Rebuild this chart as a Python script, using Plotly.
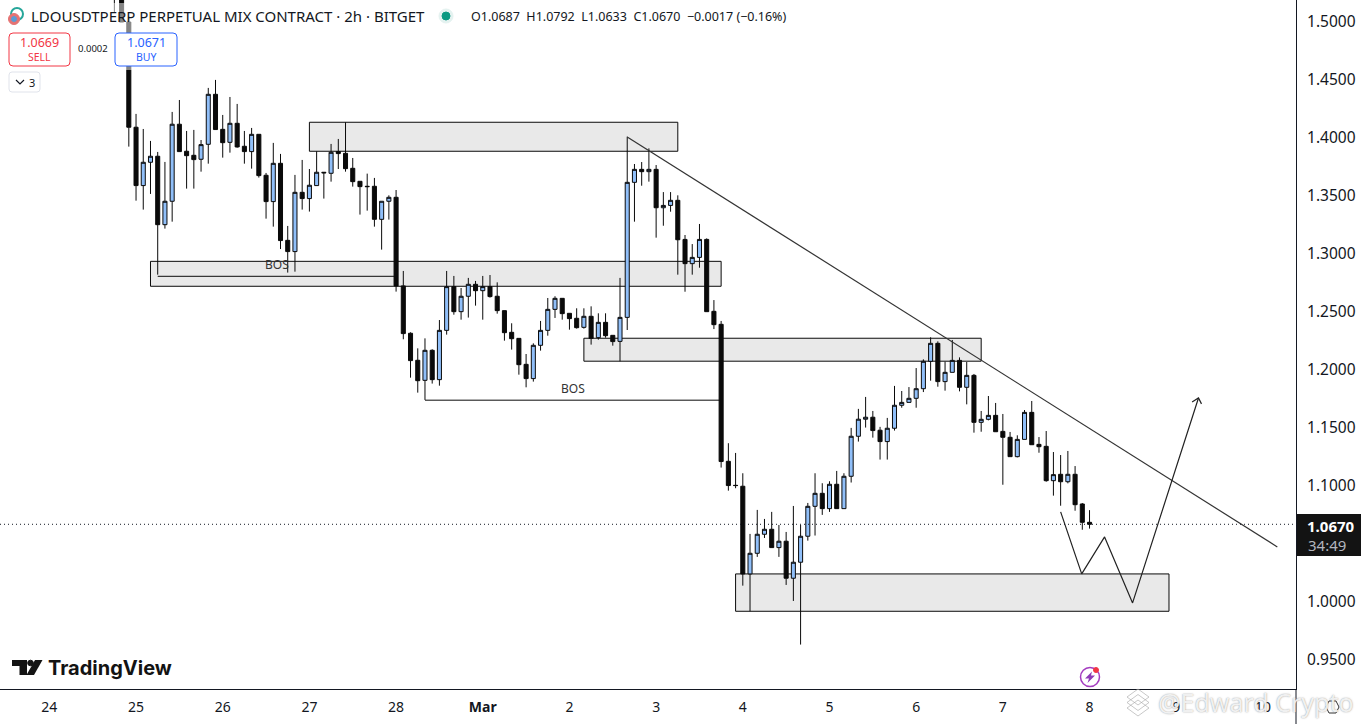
import pandas as pd
import plotly.graph_objects as go

W, H = 1366, 724
PW, PH = 1296, 689

opens = [1.5800,1.5600,1.5000,
 1.4093,1.3590,1.3791,1.3843,1.3253,1.3455,1.4119,1.3886,1.3851,1.3817,
 1.3946,1.4377,1.4075,1.3963,1.4127,1.3929,1.3883,1.4032,1.3679,1.3452,
 1.3782,1.3118,1.3021,1.3532,1.3478,1.3590,1.3705,1.3696,1.3883,1.3868,
 1.3739,1.3627,1.3584,1.3584,1.3299,1.3455,1.3489,1.2725,1.2317,1.2084,
 1.1911,1.2170,1.1917,1.2342,1.2719,1.2503,1.2636,1.2739,1.2684,1.2719,
 1.2636,1.2512,1.2325,1.2273,1.2049,1.1926,1.2213,1.2342,1.2523,1.2618,
 1.2489,1.2446,1.2368,1.2463,1.2279,1.2411,1.2299,1.2247,1.2454,1.3618,
 1.3730,1.3710,1.3730,1.3399,1.3419,1.3463,1.3126,1.2917,1.2971,1.3126,
 1.2506,1.2394,1.1213,1.1006,1.0998,1.0242,1.0420,1.0584,1.0627,1.0469,
 1.0524,1.0205,1.0343,1.0567,1.0825,1.0937,1.0805,1.1015,1.0805,1.1084,
 1.1429,1.1576,1.1593,1.1481,1.1383,1.1498,1.1696,1.1721,1.1756,1.1839,
 1.2075,1.2230,1.1900,1.1980,1.2083,1.1851,1.1954,1.1549,1.1575,1.1609,
 1.1471,1.1420,1.1253,1.1402,1.1635,1.1359,1.1342,1.1046,1.1101,1.1037,
 1.1101,1.0845,1.0687]
highs = [1.5900,1.5650,1.5050,
 1.4208,1.4078,1.3975,1.3880,1.3794,1.4225,1.4328,1.4061,1.4070,1.3983,
 1.4432,1.4501,1.4199,1.4354,1.4294,1.4061,1.4087,1.4032,1.3699,1.3958,
 1.3863,1.3242,1.3682,1.3811,1.3733,1.3886,1.3705,1.3949,1.3992,1.4136,
 1.3828,1.3627,1.3693,1.3656,1.3455,1.3506,1.3552,1.2854,1.2325,1.2187,
 1.2273,1.2179,1.2431,1.2854,1.2811,1.2707,1.2794,1.2768,1.2811,1.2819,
 1.2756,1.2512,1.2403,1.2273,1.2138,1.2230,1.2423,1.2621,1.2636,1.2618,
 1.2489,1.2532,1.2532,1.2549,1.2489,1.2489,1.2299,1.2794,1.4012,1.3776,
 1.3793,1.3911,1.3767,1.3534,1.3534,1.3506,1.3164,1.3086,1.3259,1.3135,
 1.2603,1.2423,1.1369,1.1285,1.1110,1.0587,1.0794,1.0716,1.0777,1.0664,
 1.0604,1.0828,1.0664,1.0854,1.1110,1.1024,1.1041,1.1130,1.1110,1.1501,
 1.1665,1.1768,1.1647,1.1510,1.1587,1.1863,1.1819,1.1853,1.2017,1.2092,
 1.2282,1.2247,1.2072,1.2259,1.2109,1.2069,1.1966,1.1647,1.1776,1.1716,
 1.1621,1.1466,1.1437,1.1655,1.1733,1.1422,1.1474,1.1293,1.1267,1.1302,
 1.1172,1.0853,1.0792]
lows = [1.5087,1.5000,1.3926,
 1.3460,1.3383,1.3518,1.2822,1.3219,1.3279,1.3883,1.3564,1.3564,1.3710,
 1.3779,1.4073,1.3831,1.3874,1.3917,1.3779,1.3736,1.3659,1.3305,1.3236,
 1.3043,1.2840,1.2848,1.3383,1.3366,1.3590,1.3478,1.3624,1.3733,1.3710,
 1.3581,1.3340,1.3374,1.3236,1.3038,1.3297,1.2676,1.2265,1.1934,1.1805,
 1.1742,1.1883,1.1865,1.2305,1.2477,1.2434,1.2452,1.2555,1.2434,1.2624,
 1.2486,1.2253,1.2176,1.1960,1.1851,1.1900,1.2167,1.2296,1.2449,1.2434,
 1.2348,1.2357,1.2357,1.2219,1.2262,1.2279,1.2210,1.2075,1.2345,1.3279,
 1.3589,1.3624,1.3141,1.3244,1.3365,1.2822,1.2675,1.2822,1.2882,1.2503,
 1.2353,1.1159,1.0960,1.0981,1.0141,0.9920,1.0389,1.0552,1.0469,1.0389,
 1.0147,1.0009,0.9633,1.0529,1.0573,1.0751,1.0777,1.0805,1.0805,1.1030,
 1.1383,1.1504,1.1417,1.1228,1.1228,1.1478,1.1675,1.1721,1.1675,1.1810,
 1.1908,1.1856,1.1822,1.1980,1.1816,1.1704,1.1460,1.1468,1.1566,1.1468,
 1.1011,1.1253,1.1247,1.1402,1.1356,1.1287,1.1037,1.0917,1.0830,1.1023,
 1.0787,1.0623,1.0633]
closes = [1.5600,1.5000,1.4093,
 1.3590,1.3791,1.3843,1.3253,1.3455,1.4119,1.3883,1.3848,1.3814,1.3943,
 1.4377,1.4073,1.3960,1.4127,1.3923,1.3883,1.4032,1.3676,1.3452,1.3782,
 1.3116,1.3021,1.3532,1.3478,1.3593,1.3705,1.3700,1.3877,1.3866,1.3736,
 1.3624,1.3581,1.3581,1.3299,1.3455,1.3489,1.2725,1.2314,1.2081,1.1908,
 1.2170,1.1917,1.2342,1.2719,1.2503,1.2636,1.2739,1.2684,1.2719,1.2633,
 1.2512,1.2322,1.2270,1.2046,1.1926,1.2213,1.2342,1.2523,1.2618,1.2486,
 1.2443,1.2365,1.2463,1.2273,1.2411,1.2296,1.2245,1.2454,1.3618,1.3730,
 1.3710,1.3730,1.3399,1.3419,1.3463,1.3123,1.2917,1.2971,1.3126,1.2503,
 1.2391,1.1211,1.1004,1.1004,1.0242,1.0420,1.0584,1.0627,1.0469,1.0524,
 1.0205,1.0343,1.0567,1.0825,1.0937,1.0805,1.1015,1.0805,1.1084,1.1429,
 1.1576,1.1593,1.1478,1.1383,1.1498,1.1696,1.1721,1.1756,1.1839,1.2075,
 1.2230,1.1900,1.1980,1.2083,1.1851,1.1954,1.1549,1.1575,1.1609,1.1468,
 1.1420,1.1253,1.1402,1.1635,1.1356,1.1339,1.1046,1.1098,1.1037,1.1101,
 1.0839,1.0687,1.0670]

dates = pd.date_range("2025-02-24 18:00", periods=len(opens), freq="2h")

tick_dates = ["2025-02-24","2025-02-25","2025-02-26","2025-02-27","2025-02-28","2025-03-01","2025-03-02",
              "2025-03-03","2025-03-04","2025-03-05","2025-03-06","2025-03-07","2025-03-08","2025-03-09","2025-03-10"]
tick_labels = ["24","25","26","27","28","<b>Mar</b>","2","3","4","5","6","7","8","9","10"]
price_ticks = [0.95,1.00,1.05,1.10,1.15,1.20,1.25,1.30,1.35,1.40,1.45,1.50]

# drawings (time, price)
zones = [("2025-02-27 00:00","2025-03-03 06:00",1.3886,1.4136),
         ("2025-02-25 04:00","2025-03-03 18:00",1.2722,1.2937),
         ("2025-03-02 04:00","2025-03-06 18:00",1.2076,1.2274),
         ("2025-03-03 22:00","2025-03-08 22:00",0.9920,1.0242)]
bos_lines = [("2025-02-25 06:00","2025-02-28 00:00",1.2808),("2025-02-28 08:00","2025-03-03 18:00",1.1740)]
bos_labels = [("2025-02-26 15:00",1.2914),("2025-03-02 01:00",1.1845)]
trend_x = ["2025-03-02 16:00","2025-03-10 04:00"]
trend_y = [1.4009,1.0475]
path_x = ["2025-03-07 16:00","2025-03-07 21:50","2025-03-08 04:10","2025-03-08 11:55","2025-03-09 06:10"]
path_y = [1.0777,1.0242,1.0561,0.9992,1.1759]
head_x = ["2025-03-09 04:24","2025-03-09 06:10","2025-03-09 07:00"]
head_y = [1.1725,1.1759,1.1708]
last_price = 1.0670

def px(x): return x / PW
def py(y): return 1 - y / PH

fig = go.Figure()
fig.add_trace(go.Candlestick(
    x=dates, open=opens, high=highs, low=lows, close=closes,
    increasing=dict(fillcolor="#90bff9", line=dict(color="#0a0a0a", width=1)),
    decreasing=dict(fillcolor="#0a0a0a", line=dict(color="#0a0a0a", width=1)),
    whiskerwidth=0, hoverinfo="skip", showlegend=False))
fig.add_trace(go.Scatter(x=trend_x, y=trend_y, mode="lines", line=dict(color="#333333", width=1.2), hoverinfo="skip", showlegend=False))
fig.add_trace(go.Scatter(x=path_x, y=path_y, mode="lines", line=dict(color="#222222", width=1.2), hoverinfo="skip", showlegend=False))
fig.add_trace(go.Scatter(x=head_x, y=head_y, mode="lines", line=dict(color="#222222", width=1.2), hoverinfo="skip", showlegend=False))

shapes = []
for x0, x1, y0, y1 in zones:
    shapes.append(dict(type="rect", xref="x", yref="y", x0=x0, x1=x1, y0=y0, y1=y1,
                       fillcolor="#e9e9e9", line=dict(color="#0a0a0a", width=1), layer="below"))
for x0, x1, y in bos_lines:
    shapes.append(dict(type="line", xref="x", yref="y", x0=x0, x1=x1, y0=y, y1=y,
                       line=dict(color="#0a0a0a", width=1), layer="below"))
shapes.append(dict(type="line", xref="paper", yref="y", x0=0, x1=1, y0=last_price, y1=last_price,
                   line=dict(color="#131722", width=1, dash="1px 3px")))

def prect(x0, y0, x1, y1, **kw):
    shapes.append(dict(type="rect", xref="paper", yref="paper", x0=px(x0), x1=px(x1), y0=py(y0), y1=py(y1), **kw))

def rrect(x0, y0, x1, y1, r, line, fill="#ffffff"):
    p = (f"M {px(x0+r)} {py(y0)} L {px(x1-r)} {py(y0)} Q {px(x1)} {py(y0)} {px(x1)} {py(y0+r)} "
         f"L {px(x1)} {py(y1-r)} Q {px(x1)} {py(y1)} {px(x1-r)} {py(y1)} L {px(x0+r)} {py(y1)} "
         f"Q {px(x0)} {py(y1)} {px(x0)} {py(y1-r)} L {px(x0)} {py(y0+r)} Q {px(x0)} {py(y0)} {px(x0+r)} {py(y0)} Z")
    shapes.append(dict(type="path", xref="paper", yref="paper", path=p, fillcolor=fill, line=dict(color=line, width=1)))

def circle(cx, cy, r, fill, line=None, lw=1):
    shapes.append(dict(type="circle", xref="paper", yref="paper", x0=px(cx-r), x1=px(cx+r), y0=py(cy+r), y1=py(cy-r),
                       fillcolor=fill, line=dict(color=line or fill, width=lw)))

def poly(points, fill):
    p = "M " + " L ".join(f"{px(a)} {py(b)}" for a, b in points) + " Z"
    shapes.append(dict(type="path", xref="paper", yref="paper", path=p, fillcolor=fill, line=dict(width=0)))

def stroke(points, color, lw=1, closed=False):
    p = "M " + " L ".join(f"{px(a)} {py(b)}" for a, b in points) + (" Z" if closed else "")
    shapes.append(dict(type="path", xref="paper", yref="paper", path=p, line=dict(color=color, width=lw)))

# translucent header veil, order boxes
prect(0, 3, 190, 70, fillcolor="rgba(255,255,255,0.5)", line=dict(width=0))
rrect(9, 33, 70, 66, 4, "#f23645")
rrect(115, 33, 177, 66, 4, "#2962ff")
rrect(9, 72, 40, 92, 3, "#e0e3eb")
stroke([(16,80),(20,84),(24,80)], "#131722", 1.2)
# symbol icon
circle(17, 14, 6, "#ffffff", "#26a69a", 2)
circle(14, 19, 5.5, "#e57373")
circle(14, 19, 2.5, "#5b9bd5")
# status dot
circle(446, 16, 7, "#e4f2f0")
circle(446, 16, 4, "#089981")
# TradingView logo
poly([(12,660),(27,660),(27,675),(19.5,675),(19.5,666),(12,666)], "#131313")
circle(30.5, 663, 2.8, "#131313")
poly([(35,660),(42.5,660),(34,675),(26.5,675)], "#131313")
# spark icon
circle(1090, 677, 9.5, "#ffffff", "#a43cc0", 1.5)
poly([(1092,671.5),(1085,678.5),(1089,678.5),(1087.5,683),(1095,675.5),(1091,675.5)], "#8e3cb8")
circle(1096, 670, 2.5, "#f23645")
# price label and axis stub
prect(1297, 514, 1361, 556, fillcolor="#131313", line=dict(width=0))
shapes.append(dict(type="line", xref="paper", yref="paper", x0=1, x1=1, y0=0, y1=py(724), line=dict(color="#131722", width=1)))
# watermark marks
for dy in (0, 5.5, 11):
    stroke([(1127,697+dy),(1138,689+dy),(1149,697+dy),(1138,705+dy)], "rgba(170,170,170,0.65)", 1, closed=True)
stroke([(1326,707),(1329,701),(1336,701),(1339,707),(1336,713),(1329,713)], "#333333", 1, closed=True)

FONT = "Noto Sans"
def note(x, y, text, size, color="#131722", anchor="left", family=FONT, shadow=None):
    f = dict(family=family, size=size, color=color)
    if shadow:
        f["shadow"] = shadow
    return dict(xref="paper", yref="paper", x=px(x), y=py(y), text=text, showarrow=False, xanchor=anchor, yanchor="middle",
                font=f, align=anchor)

annotations = [
    note(29, 16, "LDOUSDTPERP PERPETUAL MIX CONTRACT · 2h · BITGET", 15),
    note(469, 16, "O1.0687  H1.0792  L1.0633  C1.0670  −0.0017 (−0.16%)", 12.5),
    note(39.5, 43, "1.0669", 12.5, "#f23645", "center"),
    note(39.5, 57, "SELL", 10.5, "#f23645", "center"),
    note(146, 43, "1.0671", 12.5, "#2962ff", "center"),
    note(146, 57, "BUY", 10.5, "#2962ff", "center"),
    note(92.5, 49, "0.0002", 9.5, "#131722", "center"),
    note(32, 82.5, "3", 11, "#131722", "center"),
    note(46, 668, "<b>TradingView</b>", 20, "#131313", family="Inter"),
    note(1305, 525.5, "<b>1.0670</b>", 15, "#ffffff"),
    note(1306, 545, "34:49", 15, "#b2b5be"),
    note(1156, 702, "@Edward Crypto", 25, "rgba(255,255,255,0.85)", shadow="0 0 1.5px #777777"),
]
for xv, yv in bos_labels:
    annotations.append(dict(xref="x", yref="y", x=xv, y=yv, text="BOS", showarrow=False,
                            font=dict(family=FONT, size=12, color="#333333")))

fig.update_layout(
    width=W, height=H, margin=dict(l=0, r=W-PW, t=0, b=H-PH, pad=0),
    paper_bgcolor="#ffffff", plot_bgcolor="#ffffff", showlegend=False, hovermode=False, boxgap=0.2,
    shapes=shapes, annotations=annotations,
    xaxis=dict(type="date", range=["2025-02-23 10:20","2025-03-10 09:10"], rangeslider=dict(visible=False),
               tickmode="array", tickvals=tick_dates, ticktext=tick_labels, showgrid=False, zeroline=False,
               showline=True, linecolor="#131722", linewidth=1, ticks="outside", ticklen=5, tickcolor="rgba(0,0,0,0)",
               tickfont=dict(family=FONT, size=14, color="#131722")),
    yaxis=dict(side="right", range=[0.9250,1.5190], tickmode="array", tickvals=price_ticks, tickformat=".4f",
               showgrid=False, zeroline=False, showline=True, linecolor="#131722", linewidth=1,
               ticks="outside", ticklen=7, tickcolor="rgba(0,0,0,0)",
               tickfont=dict(family=FONT, size=15.5, color="#131722")),
)
fig.write_html("out.html", config=dict(displayModeBar=False),
               post_script="document.body.style.margin='0';document.body.style.overflow='hidden';")
